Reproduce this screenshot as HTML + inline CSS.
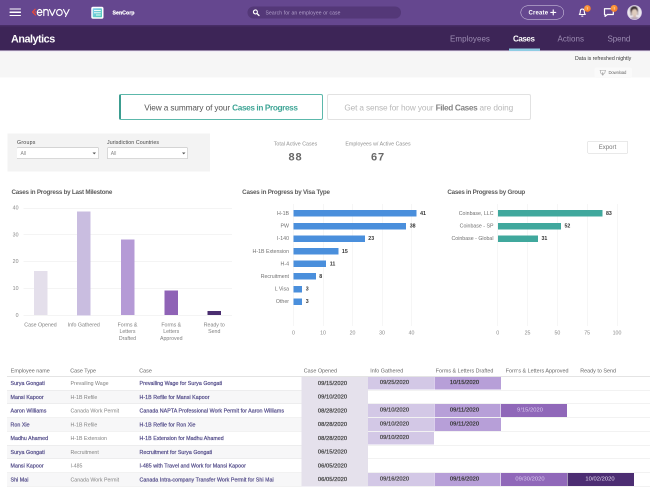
<!DOCTYPE html>
<html><head><meta charset="utf-8"><title>Analytics</title>
<style>
*{box-sizing:border-box;margin:0;padding:0}
html,body{width:650px;height:489px;overflow:hidden;background:#fff}
body{font-family:"Liberation Sans",sans-serif;}
#r{position:absolute;left:0;top:0;width:1300px;height:978px;transform:scale(.5);transform-origin:0 0;overflow:hidden;will-change:transform}
.a{position:absolute;white-space:nowrap}
.t{position:absolute;white-space:pre;line-height:1.5;}
.c{transform:translateX(-50%)}
.rt{transform:translateX(-100%)}
b{font-weight:bold}
.sb{-webkit-text-stroke:0.4px currentColor}
.sb2{-webkit-text-stroke:0.55px currentColor}
</style></head><body><div id="r">

<div class="a" style="left:0px;top:0px;width:1300px;height:50px;background:#65478f"></div>
<div class="a" style="left:0px;top:50px;width:1300px;height:51px;background:linear-gradient(#4a2f6a,#3d2557 5px,#3d2557)"></div>
<div class="a" style="left:0px;top:101px;width:1300px;height:53.5px;background:#f6f6f6"></div>
<div class="a" style="left:0px;top:101px;width:1300px;height:2px;background:#ebe3f4"></div>
<div class="a" style="left:18.5px;top:16.5px;width:23.5px;height:2.6px;background:#fff;border-radius:1px"></div>
<div class="a" style="left:18.5px;top:23px;width:23.5px;height:2.6px;background:#fff;border-radius:1px"></div>
<div class="a" style="left:18.5px;top:29.5px;width:23.5px;height:2.6px;background:#fff;border-radius:1px"></div>
<svg class="a" style="left:60px;top:12px" width="84" height="28" viewBox="0 0 84 28">
<path d="M10.2 6.500 L5 12 L11 17.8" fill="none" stroke="#ea4a3a" stroke-width="2.5" stroke-linecap="round" stroke-linejoin="round"/>
<path d="M11.5 11.9 L9.8 12" fill="none" stroke="#ea4a3a" stroke-width="2.4" stroke-linecap="round"/>
<g fill="none" stroke="#fff" stroke-width="2.3" stroke-linecap="round" stroke-linejoin="round">
<path d="M14.8 13 H24 A4.7 6 0 1 0 22.8 17"/>
<path d="M27.6 19.2 V7 M27.6 12 C27.6 8.500 29.6 7 32 7 C34.4 7 36.4 8.500 36.400 12 V19.2"/>
<path d="M39 7 L44.6 19 L50.2 7"/>
<ellipse cx="58.8" cy="13" rx="5.600" ry="6"/>
<path d="M67 7 L72.5 17.500 M78.2 7 L71 21"/>
</g></svg>
<svg class="a" style="left:182px;top:13px" width="26" height="25" viewBox="0 0 26 25">
<defs><linearGradient id="sg" x1="0" y1="0" x2="1" y2="1"><stop offset="0" stop-color="#86cdf0"/><stop offset="1" stop-color="#4fcab6"/></linearGradient></defs>
<rect x="0.5" y="0.5" width="24.5" height="24" rx="3.5" fill="#fff"/>
<rect x="3.5" y="3.500" width="18.500" height="18" rx="1.5" fill="url(#sg)"/>
<path d="M6 8 H19.500 M6 12.500 H19.500 M10 17 H19.5" stroke="#eafaf8" stroke-width="1.8"/>
</svg>
<div class="t sb" style="left:225px;top:17.62px;font-size:10.5px;color:#fff;font-weight:bold"><span style="letter-spacing:0.03px;">SenCorp</span></div>
<div class="a" style="left:495px;top:13px;width:307px;height:24px;background:#543878;border-radius:12px"></div>
<svg class="a" style="left:504.500px;top:18px" width="15" height="15" viewBox="0 0 15 15"><circle cx="5.8" cy="5.8" r="4" fill="none" stroke="#fff" stroke-width="2.2"/><path d="M9 9 L13 13" stroke="#fff" stroke-width="2.600" stroke-linecap="round"/></svg>
<div class="t " style="left:531px;top:17.50px;font-size:10px;color:#b3a2cc;"><span style="letter-spacing:0.28px;">Search for an employee or case</span></div>
<div class="a" style="left:1040.5px;top:11px;width:87.5px;height:27.5px;border:1.8px solid #e0d8ec;border-radius:14px"></div>
<div class="t " style="left:1057px;top:16.00px;font-size:12px;color:#fff;font-weight:bold"><span style="letter-spacing:0.36px;">Create</span></div>
<svg class="a" style="left:1100px;top:18px" width="14" height="14" viewBox="0 0 14 14"><path d="M6.500 1.800V11.800M1.500 6.800H11.5" stroke="#fff" stroke-width="2.300" stroke-linecap="round"/></svg>
<svg class="a" style="left:1154px;top:10px" width="30" height="30" viewBox="0 0 30 30">
<defs><radialGradient id="og" cx="0.4" cy="0.35" r="0.7"><stop offset="0" stop-color="#fba548"/><stop offset="1" stop-color="#f27428"/></radialGradient></defs>
<path d="M4.600 19 C6.600 17.300 6.600 14.800 6.600 13 C6.600 10 8.300 8.200 10.600 8.200 C12.900 8.200 14.600 10 14.600 13 C14.600 14.800 14.600 17.300 16.600 19 Z" fill="none" stroke="#fff" stroke-width="2.200" stroke-linejoin="round"/>
<path d="M9.400 22.300 H11.8" stroke="#fff" stroke-width="2" stroke-linecap="round"/>
<circle cx="20.8" cy="7" r="6.800" fill="url(#og)"/>
<path d="M21 4.400 V9.6" stroke="#fff" stroke-width="1.1" opacity=".7"/></svg>
<svg class="a" style="left:1202px;top:10px" width="36" height="30" viewBox="0 0 36 30">
<path d="M7 7.500 H24.600 V19 H13 L8.200 22.800 V19 H7 Z" fill="none" stroke="#fff" stroke-width="2.400" stroke-linejoin="round"/>
<circle cx="26.3" cy="6.800" r="7" fill="url(#og)"/>
<path d="M26.500 4.200 V9.4" stroke="#fff" stroke-width="1.1" opacity=".7"/></svg>
<svg class="a" style="left:1253.200px;top:9.4px" width="32" height="32" viewBox="0 0 32 32">
<defs><clipPath id="av"><circle cx="16" cy="16" r="13.3"/></clipPath><filter id="bl" x="-20%" y="-20%" width="140%" height="140%"><feGaussianBlur stdDeviation="1"/></filter></defs>
<circle cx="16" cy="16" r="14.8" fill="#d9cee6"/>
<g clip-path="url(#av)"><g filter="url(#bl)"><rect x="-4" y="-4" width="40" height="40" fill="#ece8ee"/>
<ellipse cx="15.2" cy="11" rx="8" ry="8" fill="#3e3034"/>
<rect x="7.5" y="11" width="4" height="11" fill="#6f5f62" opacity=".55"/>
<rect x="20.5" y="11" width="3.5" height="10" fill="#8d7d80" opacity=".5"/>
<ellipse cx="16" cy="16" rx="5.600" ry="6.800" fill="#dfccbd"/>
<ellipse cx="16" cy="32" rx="12.500" ry="7.500" fill="#b9a9b8"/>
<rect x="13.5" y="21.500" width="5" height="4" fill="#d4bcae"/></g></g></svg>
<div class="t " style="left:22px;top:61.80px;font-size:21.6px;color:#fff;font-weight:bold"><span style="letter-spacing:-0.95px;">Analytics</span></div>
<div class="t " style="left:900px;top:66.00px;font-size:16px;color:#9d8db3;"><span style="letter-spacing:0.09px;">Employees</span></div>
<div class="t " style="left:1026px;top:66.00px;font-size:16px;color:#fff;font-weight:bold"><span style="letter-spacing:-0.83px;">Cases</span></div>
<div class="t " style="left:1115px;top:66.00px;font-size:16px;color:#9d8db3;"><span style="letter-spacing:0.08px;">Actions</span></div>
<div class="t " style="left:1215px;top:66.00px;font-size:16px;color:#9d8db3;"><span style="letter-spacing:-0.15px;">Spend</span></div>
<div class="a" style="left:1018px;top:96.5px;width:62px;height:5px;background:#8fcde3"></div>
<div class="a" style="left:1189px;top:135px;width:75px;height:21px;background:#fafafa;border-radius:4px"></div>
<div class="t " style="left:1150px;top:109.12px;font-size:10.5px;color:#3a3a3a;"><span style="letter-spacing:-0.03px;">Data is refreshed nightly</span></div>
<svg class="a" style="left:1199px;top:139px" width="14" height="14" viewBox="0 0 14 14"><path d="M1.200 1.500 H11.800 L10.500 7.500 H2.500 Z M6.500 5 V11 M4.500 9.500 L6.500 11.500 L8.500 9.5" fill="none" stroke="#a0a0a0" stroke-width="1.2"/></svg>
<div class="t " style="left:1217px;top:139.12px;font-size:8.5px;color:#6a6a6a;"><span style="letter-spacing:-0.29px;">Download</span></div>
<div class="a" style="left:238px;top:188px;width:408px;height:52px;border:2px solid #5cb8ab;border-left:4.5px solid #3c9d90;border-radius:4px;background:#fff"></div>
<div class="t" style="left:288.6px;top:203.125px;font-size:16.5px;color:#555"><span style="letter-spacing:-0.24px;">View a summary of your </span><span style="letter-spacing:-0.78px;font-weight:bold;color:#3fa596">Cases in Progress</span></div>
<div class="a" style="left:654px;top:188px;width:408px;height:52px;border:2px solid #e2e2e2;border-radius:4px;background:#fff"></div>
<div class="t" style="left:688.7px;top:203.125px;font-size:16.5px;color:#b8b8b8"><span style="letter-spacing:-0.26px;">Get a sense for how your </span><span style="letter-spacing:-0.75px;font-weight:bold;color:#848484">Filed Cases</span><span style="letter-spacing:-0.18px;"> are doing</span></div>
<div class="a" style="left:15px;top:267px;width:405px;height:76px;background:#f3f3f3"></div>
<div class="t " style="left:34px;top:277.12px;font-size:10.5px;color:#444;"><span style="letter-spacing:0.46px;">Groups</span></div>
<div class="t " style="left:214px;top:277.12px;font-size:10.5px;color:#444;"><span style="letter-spacing:0.17px;">Jurisdiction Countries</span></div>
<div class="a" style="left:33px;top:295px;width:165px;height:22.5px;background:#fff;border:1.6px solid #b4b4b4;border-radius:2px"></div>
<div class="a" style="left:213.5px;top:295px;width:162.5px;height:22.5px;background:#fff;border:1.6px solid #b4b4b4;border-radius:2px"></div>
<div class="t " style="left:41px;top:299.30px;font-size:10px;color:#8a8a8a;">All</div>
<div class="t " style="left:221.5px;top:299.30px;font-size:10px;color:#8a8a8a;">All</div>
<svg class="a" style="left:184.500px;top:305.2px" width="7" height="4"><path d="M0 0 L7 0 L3.500 3.800 Z" fill="#555"/></svg>
<svg class="a" style="left:363.500px;top:305.2px" width="7" height="4"><path d="M0 0 L7 0 L3.500 3.800 Z" fill="#555"/></svg>
<div class="t c" style="left:591px;top:280.12px;font-size:10.5px;color:#909090;"><span style="letter-spacing:0.07px;">Total Active Cases</span></div>
<div class="t c" style="left:591px;top:296.50px;font-size:22px;color:#686868;font-weight:bold;letter-spacing:1.8px">88</div>
<div class="t c" style="left:756px;top:280.12px;font-size:10.5px;color:#909090;"><span style="letter-spacing:0.06px;">Employees w/ Active Cases</span></div>
<div class="t c" style="left:756px;top:296.50px;font-size:22px;color:#686868;font-weight:bold;letter-spacing:1.8px">67</div>
<div class="a" style="left:1175px;top:281.5px;width:81px;height:25.5px;border:1.5px solid #d3d3d3;border-radius:2px;background:#fff"></div>
<div class="t c" style="left:1215px;top:284.50px;font-size:12px;color:#777;"><span style="letter-spacing:0.09px;">Export</span></div>
<div class="t " style="left:22.9px;top:374.62px;font-size:12.5px;color:#5c5c5c;font-weight:bold"><span style="letter-spacing:-0.46px;">Cases in Progress by Last Milestone</span></div>
<div class="a" style="left:47px;top:630.0px;width:417px;height:1px;background:#e9e9e9"></div>
<div class="t rt" style="left:37px;top:622.62px;font-size:10.5px;color:#858585;">0</div>
<div class="a" style="left:47px;top:576.4px;width:417px;height:1px;background:#e9e9e9"></div>
<div class="t rt" style="left:37px;top:569.02px;font-size:10.5px;color:#858585;">10</div>
<div class="a" style="left:47px;top:522.8px;width:417px;height:1px;background:#e9e9e9"></div>
<div class="t rt" style="left:37px;top:515.42px;font-size:10.5px;color:#858585;">20</div>
<div class="a" style="left:47px;top:469.2px;width:417px;height:1px;background:#e9e9e9"></div>
<div class="t rt" style="left:37px;top:461.82px;font-size:10.5px;color:#858585;">30</div>
<div class="a" style="left:47px;top:415.6px;width:417px;height:1px;background:#e9e9e9"></div>
<div class="t rt" style="left:37px;top:408.23px;font-size:10.5px;color:#858585;">40</div>
<div class="a" style="left:67.5px;top:542.1px;width:27px;height:88.4px;background:#e4dfeb"></div>
<div class="a" style="left:154.0px;top:422.5px;width:27px;height:208.0px;background:#c9bde0"></div>
<div class="a" style="left:241.5px;top:479.3px;width:27px;height:151.2px;background:#b59ad6"></div>
<div class="a" style="left:329.0px;top:581.2px;width:27px;height:49.3px;background:#8f63b6"></div>
<div class="a" style="left:415.0px;top:621.9px;width:27px;height:8.6px;background:#4b2e70"></div>
<div class="t c" style="left:81px;top:642.12px;font-size:10.5px;color:#808080;">Case Opened</div>
<div class="t c" style="left:167.5px;top:642.12px;font-size:10.5px;color:#808080;">Info Gathered</div>
<div class="t c" style="left:255px;top:642.12px;font-size:10.5px;color:#808080;">Forms &amp;</div>
<div class="t c" style="left:255px;top:655.33px;font-size:10.5px;color:#808080;">Letters</div>
<div class="t c" style="left:255px;top:668.52px;font-size:10.5px;color:#808080;">Drafted</div>
<div class="t c" style="left:342.5px;top:642.12px;font-size:10.5px;color:#808080;">Forms &amp;</div>
<div class="t c" style="left:342.5px;top:655.33px;font-size:10.5px;color:#808080;">Letters</div>
<div class="t c" style="left:342.5px;top:668.52px;font-size:10.5px;color:#808080;">Approved</div>
<div class="t c" style="left:428.5px;top:642.12px;font-size:10.5px;color:#808080;">Ready to</div>
<div class="t c" style="left:428.5px;top:655.33px;font-size:10.5px;color:#808080;">Send</div>
<div class="t " style="left:484.3px;top:374.62px;font-size:12.5px;color:#5c5c5c;font-weight:bold"><span style="letter-spacing:-0.42px;">Cases in Progress by Visa Type</span></div>
<div class="a" style="left:586.5px;top:408px;width:1px;height:244px;background:#ececec"></div>
<div class="t c" style="left:587.0px;top:658.12px;font-size:10.5px;color:#8a8a8a;">0</div>
<div class="a" style="left:645.5px;top:408px;width:1px;height:244px;background:#ececec"></div>
<div class="t c" style="left:646.0px;top:658.12px;font-size:10.5px;color:#8a8a8a;">10</div>
<div class="a" style="left:704.5px;top:408px;width:1px;height:244px;background:#ececec"></div>
<div class="t c" style="left:705.0px;top:658.12px;font-size:10.5px;color:#8a8a8a;">20</div>
<div class="a" style="left:763.5px;top:408px;width:1px;height:244px;background:#ececec"></div>
<div class="t c" style="left:764.0px;top:658.12px;font-size:10.5px;color:#8a8a8a;">30</div>
<div class="a" style="left:822.5px;top:408px;width:1px;height:244px;background:#ececec"></div>
<div class="t c" style="left:823.0px;top:658.12px;font-size:10.5px;color:#8a8a8a;">40</div>
<div class="a" style="left:587px;top:420.3px;width:246.2px;height:13px;background:#4a8fdc"></div>
<div class="t rt" style="left:578px;top:418.93px;font-size:10.5px;color:#707070;">H-1B</div>
<div class="t " style="left:840.2px;top:418.93px;font-size:10.5px;color:#333;font-weight:bold">41</div>
<div class="a" style="left:587px;top:445.5px;width:225.4px;height:13px;background:#4a8fdc"></div>
<div class="t rt" style="left:578px;top:444.12px;font-size:10.5px;color:#707070;">PW</div>
<div class="t " style="left:819.4px;top:444.12px;font-size:10.5px;color:#333;font-weight:bold">38</div>
<div class="a" style="left:587px;top:470.7px;width:142.6px;height:13px;background:#4a8fdc"></div>
<div class="t rt" style="left:578px;top:469.32px;font-size:10.5px;color:#707070;">I-140</div>
<div class="t " style="left:736.6px;top:469.32px;font-size:10.5px;color:#333;font-weight:bold">23</div>
<div class="a" style="left:587px;top:495.9px;width:89.8px;height:13px;background:#4a8fdc"></div>
<div class="t rt" style="left:578px;top:494.52px;font-size:10.5px;color:#707070;">H-1B Extension</div>
<div class="t " style="left:683.8px;top:494.52px;font-size:10.5px;color:#333;font-weight:bold">15</div>
<div class="a" style="left:587px;top:521.1px;width:65.4px;height:13px;background:#4a8fdc"></div>
<div class="t rt" style="left:578px;top:519.73px;font-size:10.5px;color:#707070;">H-4</div>
<div class="t " style="left:659.4px;top:519.73px;font-size:10.5px;color:#333;font-weight:bold">11</div>
<div class="a" style="left:587px;top:546.3px;width:44.6px;height:13px;background:#4a8fdc"></div>
<div class="t rt" style="left:578px;top:544.92px;font-size:10.5px;color:#707070;">Recruitment</div>
<div class="t " style="left:638.6px;top:544.92px;font-size:10.5px;color:#333;font-weight:bold">8</div>
<div class="a" style="left:587px;top:571.5px;width:17.4px;height:13px;background:#4a8fdc"></div>
<div class="t rt" style="left:578px;top:570.12px;font-size:10.5px;color:#707070;">L Visa</div>
<div class="t " style="left:611.4px;top:570.12px;font-size:10.5px;color:#333;font-weight:bold">3</div>
<div class="a" style="left:587px;top:596.7px;width:17.4px;height:13px;background:#4a8fdc"></div>
<div class="t rt" style="left:578px;top:595.33px;font-size:10.5px;color:#707070;">Other</div>
<div class="t " style="left:611.4px;top:595.33px;font-size:10.5px;color:#333;font-weight:bold">3</div>
<div class="t " style="left:894.8px;top:374.62px;font-size:12.5px;color:#5c5c5c;font-weight:bold"><span style="letter-spacing:-0.50px;">Cases in Progress by Group</span></div>
<div class="a" style="left:995.0px;top:408px;width:1px;height:244px;background:#ececec"></div>
<div class="t c" style="left:995.5px;top:658.12px;font-size:10.5px;color:#8a8a8a;">0</div>
<div class="a" style="left:1054.6px;top:408px;width:1px;height:244px;background:#ececec"></div>
<div class="t c" style="left:1055.125px;top:658.12px;font-size:10.5px;color:#8a8a8a;">25</div>
<div class="a" style="left:1114.2px;top:408px;width:1px;height:244px;background:#ececec"></div>
<div class="t c" style="left:1114.75px;top:658.12px;font-size:10.5px;color:#8a8a8a;">50</div>
<div class="a" style="left:1173.9px;top:408px;width:1px;height:244px;background:#ececec"></div>
<div class="t c" style="left:1174.375px;top:658.12px;font-size:10.5px;color:#8a8a8a;">75</div>
<div class="a" style="left:1233.5px;top:408px;width:1px;height:244px;background:#ececec"></div>
<div class="t c" style="left:1234.0px;top:658.12px;font-size:10.5px;color:#8a8a8a;">100</div>
<div class="a" style="left:995.5px;top:420.3px;width:209.5px;height:13px;background:#40a89d"></div>
<div class="t rt" style="left:987px;top:418.93px;font-size:10.5px;color:#707070;">Coinbase, LLC</div>
<div class="t " style="left:1212px;top:418.93px;font-size:10.5px;color:#333;font-weight:bold">83</div>
<div class="a" style="left:995.5px;top:445.5px;width:126.5px;height:13px;background:#40a89d"></div>
<div class="t rt" style="left:987px;top:444.12px;font-size:10.5px;color:#707070;">Coinbase - SP</div>
<div class="t " style="left:1129px;top:444.12px;font-size:10.5px;color:#333;font-weight:bold">52</div>
<div class="a" style="left:995.5px;top:470.7px;width:80.5px;height:13px;background:#40a89d"></div>
<div class="t rt" style="left:987px;top:469.32px;font-size:10.5px;color:#707070;">Coinbase - Global</div>
<div class="t " style="left:1083px;top:469.32px;font-size:10.5px;color:#333;font-weight:bold">31</div>
<div class="t " style="left:21.5px;top:733.40px;font-size:10.8px;color:#686868;">Employee name</div>
<div class="t " style="left:140.5px;top:733.40px;font-size:10.8px;color:#686868;">Case Type</div>
<div class="t " style="left:278.5px;top:733.40px;font-size:10.8px;color:#686868;">Case</div>
<div class="t " style="left:607.5px;top:733.40px;font-size:10.8px;color:#686868;">Case Opened</div>
<div class="t " style="left:740.5px;top:733.40px;font-size:10.8px;color:#686868;">Info Gathered</div>
<div class="t " style="left:871.5px;top:733.40px;font-size:10.8px;color:#686868;">Forms &amp; Letters Drafted</div>
<div class="t " style="left:1011.5px;top:733.40px;font-size:10.8px;color:#686868;">Forms &amp; Letters Approved</div>
<div class="t " style="left:1160.5px;top:733.40px;font-size:10.8px;color:#686868;">Ready to Send</div>
<div class="a" style="left:14px;top:752.0px;width:1286px;height:1px;background:#e4e4e4"></div>
<div class="a" style="left:14px;top:780.0px;width:589px;height:27.5px;background:#f7f7f8"></div>
<div class="a" style="left:14px;top:779.5px;width:1286px;height:1px;background:#e4e4e4"></div>
<div class="a" style="left:14px;top:807.0px;width:1286px;height:1px;background:#e4e4e4"></div>
<div class="a" style="left:14px;top:835.0px;width:589px;height:27.5px;background:#f7f7f8"></div>
<div class="a" style="left:14px;top:834.5px;width:1286px;height:1px;background:#e4e4e4"></div>
<div class="a" style="left:14px;top:862.0px;width:1286px;height:1px;background:#e4e4e4"></div>
<div class="a" style="left:14px;top:890.0px;width:589px;height:27.5px;background:#f7f7f8"></div>
<div class="a" style="left:14px;top:889.5px;width:1286px;height:1px;background:#e4e4e4"></div>
<div class="a" style="left:14px;top:917.0px;width:1286px;height:1px;background:#e4e4e4"></div>
<div class="a" style="left:14px;top:945.0px;width:589px;height:27.5px;background:#f7f7f8"></div>
<div class="a" style="left:14px;top:944.5px;width:1286px;height:1px;background:#e4e4e4"></div>
<div class="a" style="left:14px;top:972.0px;width:1286px;height:1px;background:#e4e4e4"></div>
<div class="a" style="left:603px;top:752.5px;width:133px;height:220.0px;background:#e5e1ec"></div>
<div class="a" style="left:21px;top:753.0px;height:27.5px;line-height:27.5px;font-size:10.6px;color:#514a88;letter-spacing:0.08px"><span class="sb" style="display:inline-block;width:120px">Surya Gongati</span><span style="display:inline-block;width:138px;font-size:10.5px;color:#828282;letter-spacing:0">Prevailing Wage</span><span class="sb">Prevailing Wage for Surya Gongati</span></div>
<div class="t c sb2" style="left:665px;top:757.62px;font-size:11.5px;color:#4a4a4a;"><span style="letter-spacing:0.09px;">09/15/2020</span></div>
<div class="a" style="left:736px;top:753.0px;width:132px;height:26.0px;background:#d3c8e6"></div>
<div class="t c sb2" style="left:789px;top:756.12px;font-size:11.5px;color:#4a4a4a;"><span style="letter-spacing:0.09px;">09/25/2020</span></div>
<div class="a" style="left:869px;top:753.0px;width:132px;height:26.0px;background:#b79fd8"></div>
<div class="t c sb2" style="left:929px;top:756.12px;font-size:11.5px;color:#3c3c3c;"><span style="letter-spacing:0.09px;">10/15/2020</span></div>
<div class="a" style="left:21px;top:780.5px;height:27.5px;line-height:27.5px;font-size:10.6px;color:#514a88;letter-spacing:0.08px"><span class="sb" style="display:inline-block;width:120px">Mansi Kapoor</span><span style="display:inline-block;width:138px;font-size:10.5px;color:#828282;letter-spacing:0">H-1B Refile</span><span class="sb">H-1B Refile for Mansi Kapoor</span></div>
<div class="t c sb2" style="left:665px;top:785.12px;font-size:11.5px;color:#4a4a4a;"><span style="letter-spacing:0.09px;">09/10/2020</span></div>
<div class="a" style="left:21px;top:808.0px;height:27.5px;line-height:27.5px;font-size:10.6px;color:#514a88;letter-spacing:0.08px"><span class="sb" style="display:inline-block;width:120px">Aaron Williams</span><span style="display:inline-block;width:138px;font-size:10.5px;color:#828282;letter-spacing:0">Canada Work Permit</span><span class="sb">Canada NAPTA Professional Work Permit for Aaron Williams</span></div>
<div class="t c sb2" style="left:665px;top:812.62px;font-size:11.5px;color:#4a4a4a;"><span style="letter-spacing:0.09px;">08/28/2020</span></div>
<div class="a" style="left:736px;top:808.0px;width:132px;height:26.0px;background:#d3c8e6"></div>
<div class="t c sb2" style="left:789px;top:811.12px;font-size:11.5px;color:#4a4a4a;"><span style="letter-spacing:0.09px;">09/10/2020</span></div>
<div class="a" style="left:869px;top:808.0px;width:132px;height:26.0px;background:#b79fd8"></div>
<div class="t c sb2" style="left:929px;top:811.12px;font-size:11.5px;color:#3c3c3c;"><span style="letter-spacing:0.18px;">09/11/2020</span></div>
<div class="a" style="left:1002px;top:808.0px;width:132px;height:26.0px;background:#9068b9"></div>
<div class="t c" style="left:1060px;top:811.12px;font-size:11.5px;color:#dccdf0;"><span style="letter-spacing:0.09px;">9/15/2020</span></div>
<div class="a" style="left:21px;top:835.5px;height:27.5px;line-height:27.5px;font-size:10.6px;color:#514a88;letter-spacing:0.08px"><span class="sb" style="display:inline-block;width:120px">Ron Xie</span><span style="display:inline-block;width:138px;font-size:10.5px;color:#828282;letter-spacing:0">H-1B Refile</span><span class="sb">H-1B Refile for Ron Xie</span></div>
<div class="t c sb2" style="left:665px;top:840.12px;font-size:11.5px;color:#4a4a4a;"><span style="letter-spacing:0.09px;">08/28/2020</span></div>
<div class="a" style="left:736px;top:835.5px;width:132px;height:26.0px;background:#d3c8e6"></div>
<div class="t c sb2" style="left:789px;top:838.62px;font-size:11.5px;color:#4a4a4a;"><span style="letter-spacing:0.09px;">09/10/2020</span></div>
<div class="a" style="left:869px;top:835.5px;width:132px;height:26.0px;background:#b79fd8"></div>
<div class="t c sb2" style="left:929px;top:838.62px;font-size:11.5px;color:#3c3c3c;"><span style="letter-spacing:0.18px;">09/11/2020</span></div>
<div class="a" style="left:21px;top:863.0px;height:27.5px;line-height:27.5px;font-size:10.6px;color:#514a88;letter-spacing:0.08px"><span class="sb" style="display:inline-block;width:120px">Madhu Ahamed</span><span style="display:inline-block;width:138px;font-size:10.5px;color:#828282;letter-spacing:0">H-1B Extension</span><span class="sb">H-1B Extension for Madhu Ahamed</span></div>
<div class="t c sb2" style="left:665px;top:867.62px;font-size:11.5px;color:#4a4a4a;"><span style="letter-spacing:0.09px;">08/28/2020</span></div>
<div class="a" style="left:736px;top:863.0px;width:132px;height:26.0px;background:#d3c8e6"></div>
<div class="t c sb2" style="left:789px;top:866.12px;font-size:11.5px;color:#4a4a4a;"><span style="letter-spacing:0.09px;">09/10/2020</span></div>
<div class="a" style="left:21px;top:890.5px;height:27.5px;line-height:27.5px;font-size:10.6px;color:#514a88;letter-spacing:0.08px"><span class="sb" style="display:inline-block;width:120px">Surya Gongati</span><span style="display:inline-block;width:138px;font-size:10.5px;color:#828282;letter-spacing:0">Recruitment</span><span class="sb">Recruitment for Surya Gongati</span></div>
<div class="t c sb2" style="left:665px;top:895.12px;font-size:11.5px;color:#4a4a4a;"><span style="letter-spacing:0.09px;">06/15/2020</span></div>
<div class="a" style="left:21px;top:918.0px;height:27.5px;line-height:27.5px;font-size:10.6px;color:#514a88;letter-spacing:0.08px"><span class="sb" style="display:inline-block;width:120px">Mansi Kapoor</span><span style="display:inline-block;width:138px;font-size:10.5px;color:#828282;letter-spacing:0">I-485</span><span class="sb">I-485 with Travel and Work for Mansi Kapoor</span></div>
<div class="t c sb2" style="left:665px;top:922.62px;font-size:11.5px;color:#4a4a4a;"><span style="letter-spacing:0.09px;">06/05/2020</span></div>
<div class="a" style="left:21px;top:945.5px;height:27.5px;line-height:27.5px;font-size:10.6px;color:#514a88;letter-spacing:0.08px"><span class="sb" style="display:inline-block;width:120px">Shi Mai</span><span style="display:inline-block;width:138px;font-size:10.5px;color:#828282;letter-spacing:0">Canada Work Permit</span><span class="sb">Canada Intra-company Transfer Work Permit for Shi Mai</span></div>
<div class="t c sb2" style="left:665px;top:950.12px;font-size:11.5px;color:#4a4a4a;"><span style="letter-spacing:0.09px;">06/05/2020</span></div>
<div class="a" style="left:736px;top:945.5px;width:132px;height:26.0px;background:#d3c8e6"></div>
<div class="t c sb2" style="left:789px;top:948.62px;font-size:11.5px;color:#4a4a4a;"><span style="letter-spacing:0.09px;">09/16/2020</span></div>
<div class="a" style="left:869px;top:945.5px;width:132px;height:26.0px;background:#b79fd8"></div>
<div class="t c sb2" style="left:929px;top:948.62px;font-size:11.5px;color:#3c3c3c;"><span style="letter-spacing:0.09px;">09/16/2020</span></div>
<div class="a" style="left:1002px;top:945.5px;width:132px;height:26.0px;background:#9068b9"></div>
<div class="t c" style="left:1060px;top:948.62px;font-size:11.5px;color:#dccdf0;"><span style="letter-spacing:0.09px;">09/30/2020</span></div>
<div class="a" style="left:1135px;top:945.5px;width:132px;height:26.0px;background:#4c2d72"></div>
<div class="t c" style="left:1200px;top:948.62px;font-size:11.5px;color:#e6dcf2;"><span style="letter-spacing:0.09px;">10/02/2020</span></div>
</div></body></html>
